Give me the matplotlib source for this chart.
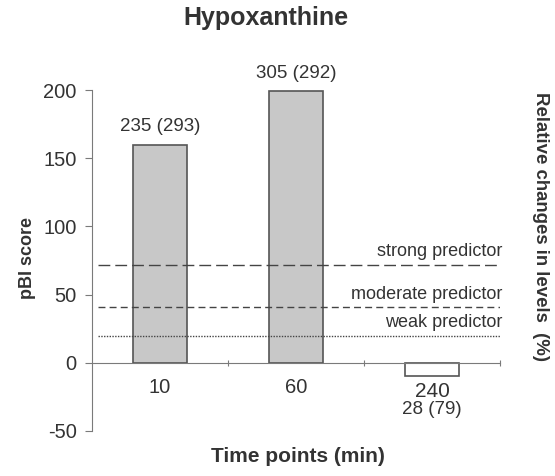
import matplotlib
matplotlib.use("Agg")
import matplotlib.pyplot as plt

categories = ["10", "60", "240"]
pbi_scores = [160, 199, -10]
bar_labels = ["235 (293)", "305 (292)", "28 (79)"]
thresholds = [72, 41, 20]
threshold_names = ["strong predictor", "moderate predictor", "weak predictor"]
yticks = [-50, 0, 50, 100, 150, 200]

plt.rcParams['font.family'] = ['Liberation Sans', 'DejaVu Sans']
txt = '#333333'
axc = '#7a7a7a'

fig = plt.figure(figsize=(5.55, 4.76), dpi=100)
ax = fig.add_axes([92/555, 1-431/476, (500-92)/555, (431-90)/476])

x = list(range(len(categories)))
colors = ['#c8c8c8', '#c8c8c8', 'white']
ax.bar(x, pbi_scores, width=0.404, color=colors, edgecolor='#555555', linewidth=1.2, zorder=3)

ax.set_xlim(-0.5, 2.5)
ax.set_ylim(-50, 200)
ax.set_yticks(yticks)
ax.set_yticklabels([str(v) for v in yticks], fontsize=14.5, color=txt)

# threshold lines
styles = [(0, (8.5, 3.6)), (0, (5, 3)), (0, (1, 1))]
for t, s in zip(thresholds, styles):
    ax.plot([-0.456, 2.5], [t, t], linestyle=s, color='#444444', linewidth=1.0, zorder=4)
for t, name in zip(thresholds, threshold_names):
    ax.annotate(name, (2.52, t), xytext=(0, 3), textcoords='offset points',
                ha='right', va='bottom', fontsize=13, color=txt, annotation_clip=False)

# spines
for s in ['top', 'right']:
    ax.spines[s].set_visible(False)
ax.spines['bottom'].set_position(('data', 0))
ax.spines['bottom'].set_color(axc)
ax.spines['left'].set_color(axc)
ax.spines['bottom'].set_zorder(5)
ax.tick_params(axis='y', colors=axc, length=5, labelcolor=txt, pad=6)
ax.set_xticks([0.5, 1.5, 2.5])
ax.set_xticklabels([])
ax.tick_params(axis='x', colors=axc, length=5, direction='inout')

# category labels
cat_sizes = [14.5, 14.5, 15]
cat_offsets = [-11, -11, -13.5]
for xi, c, fs, off in zip(x, categories, cat_sizes, cat_offsets):
    ax.annotate(c, (xi, 0), xytext=(0, off), textcoords='offset points',
                ha='center', va='top', fontsize=fs, color=txt)

# value labels
ax.annotate(bar_labels[0], (0, pbi_scores[0]), xytext=(0, 7), textcoords='offset points',
            ha='center', va='bottom', fontsize=13.5, color=txt)
ax.annotate(bar_labels[1], (1, pbi_scores[1]), xytext=(0, 7), textcoords='offset points',
            ha='center', va='bottom', fontsize=13.5, color=txt)
ax.annotate(bar_labels[2], (2, 0), xytext=(0, -27.5), textcoords='offset points',
            ha='center', va='top', fontsize=13.5, color=txt)

fig.text(28/555, 1-258/476, "pBI score", ha='center', va='center', rotation=90,
         fontsize=13, fontweight='bold', color=txt)
fig.text(298/555, 1-457/476, "Time points (min)", ha='center', va='center',
         fontsize=15, fontweight='bold', color=txt)
fig.text(266/555, 1-18/476, "Hypoxanthine", ha='center', va='center',
         fontsize=18, fontweight='bold', color=txt)
fig.text(540/555, 1-226/476, "Relative changes in levels  (%)", ha='center', va='center',
         rotation=270, fontsize=13.4, fontweight='bold', color=txt)

fig.savefig("out.png", dpi=100)
